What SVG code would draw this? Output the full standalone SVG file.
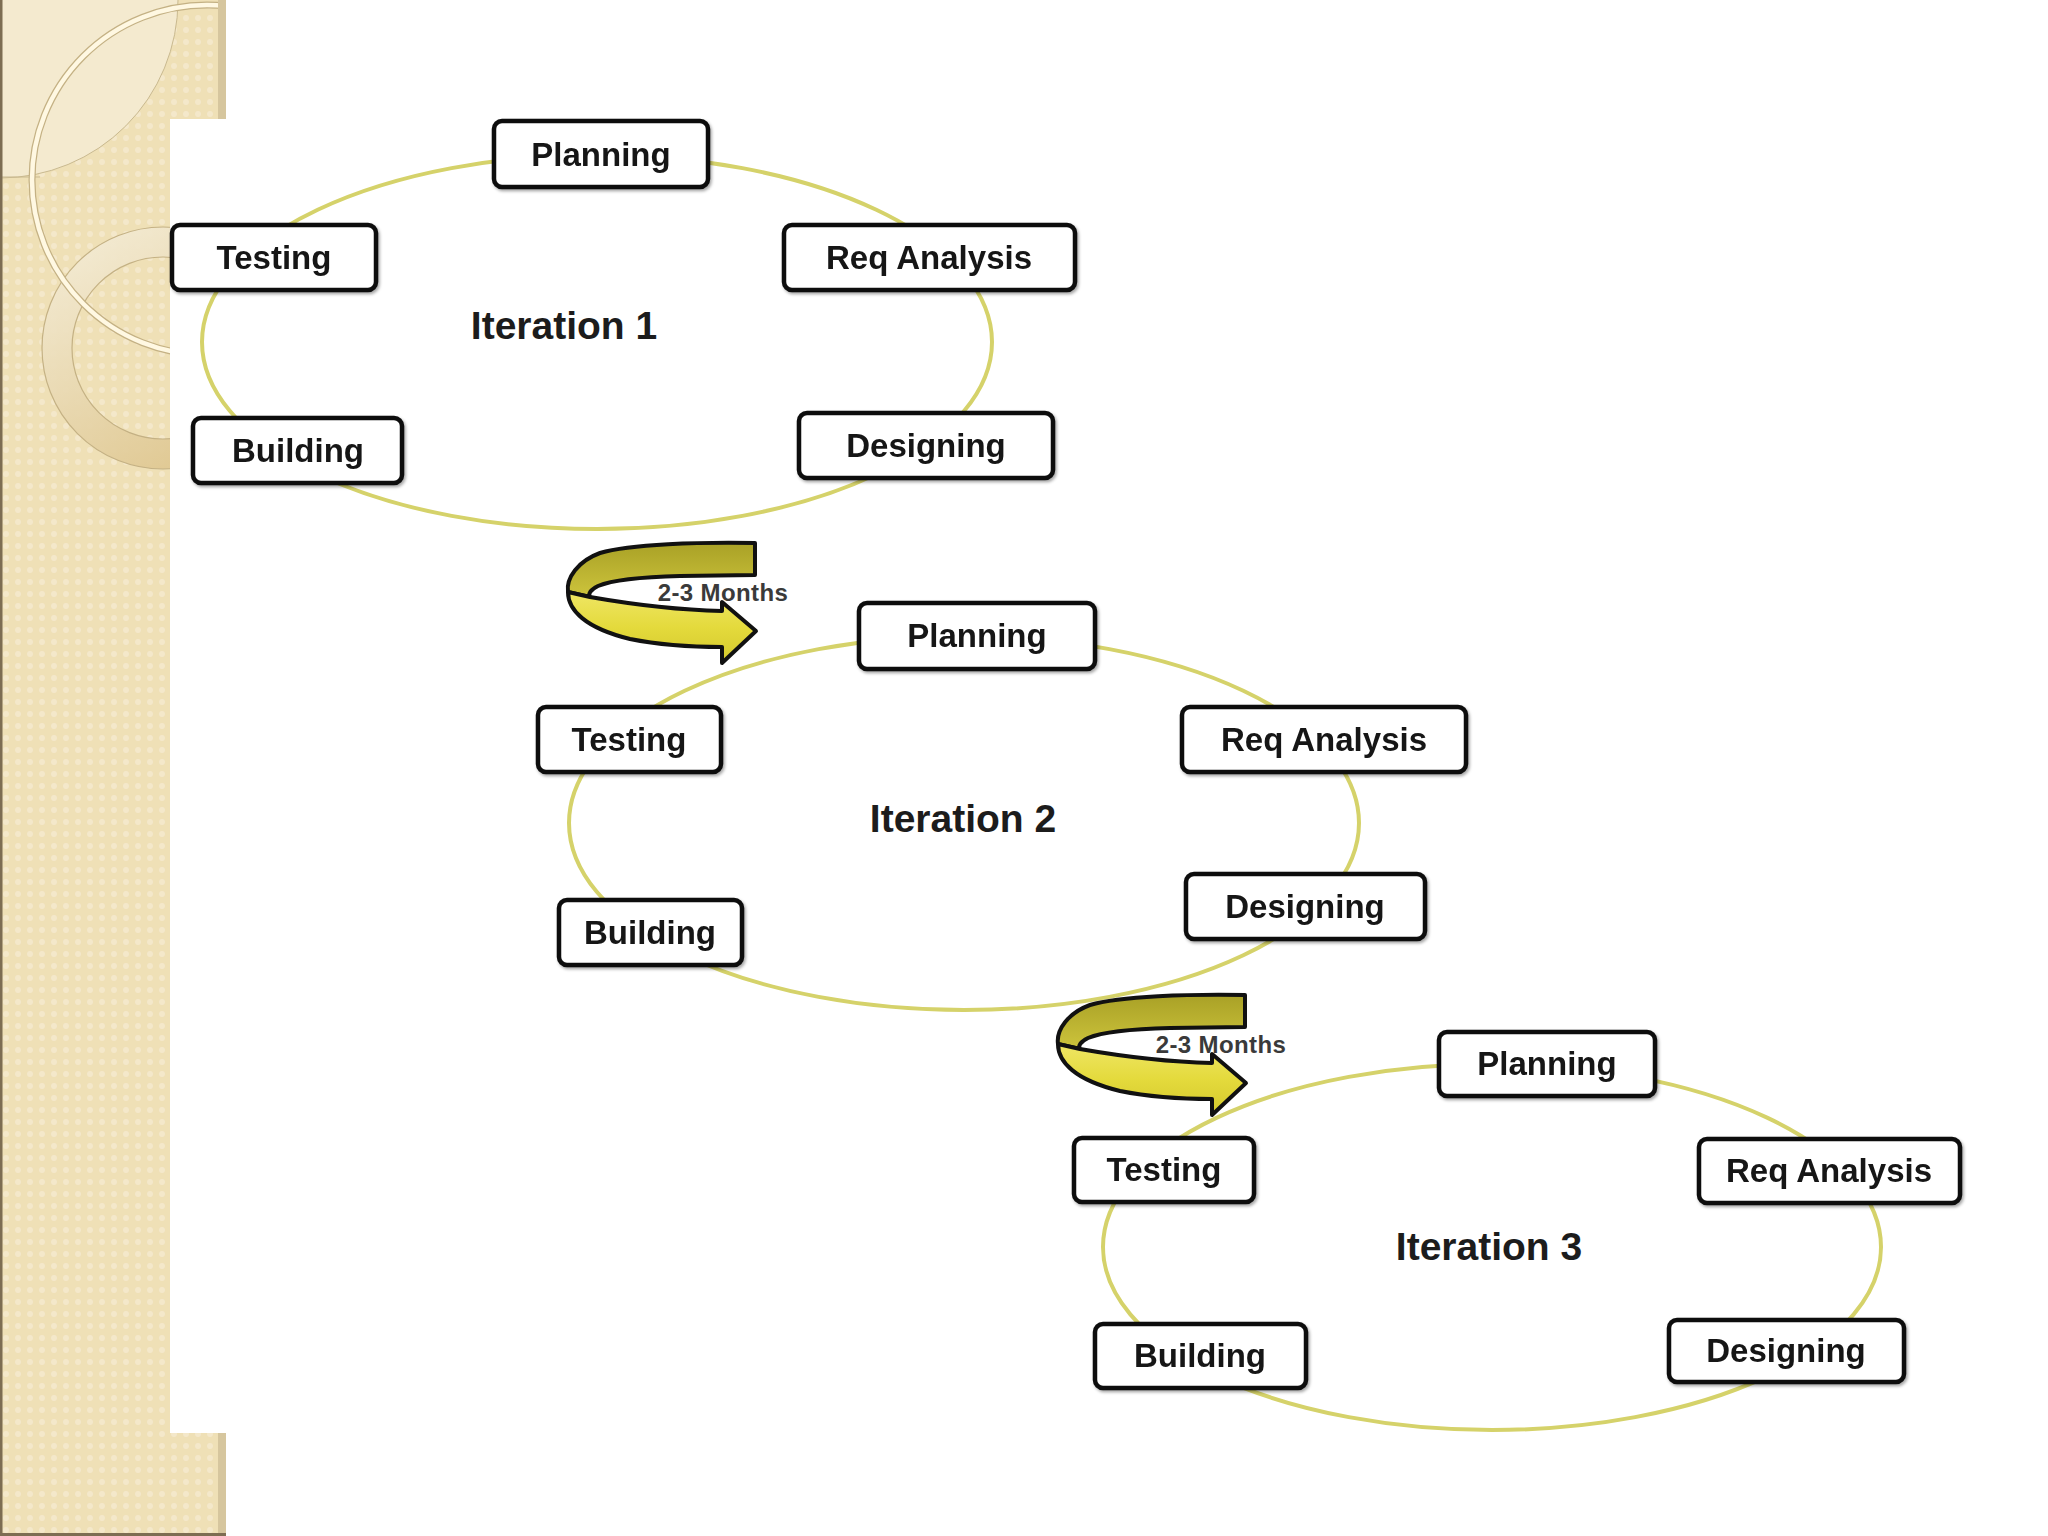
<svg xmlns="http://www.w3.org/2000/svg" width="2048" height="1536" viewBox="0 0 2048 1536">
<style>
.box{fill:#ffffff;stroke:#111111;stroke-width:4.5}
.lbl{font-family:"Liberation Sans",Arial,sans-serif;font-weight:bold;font-size:33px;fill:#151515;text-anchor:middle}
.iter{font-family:"Liberation Sans",Arial,sans-serif;font-weight:bold;font-size:39px;fill:#1c1c1c;text-anchor:middle}
.cyc{fill:none;stroke:#d5d26a;stroke-width:4}
.mon{font-family:"Liberation Sans",Arial,sans-serif;font-weight:bold;font-size:24px;fill:#3a3a3a;text-anchor:middle;letter-spacing:0.4px}
.arw{stroke:#111111;stroke-width:4;stroke-linejoin:round}
</style>
<defs>
<pattern id="dots" width="12" height="12" patternUnits="userSpaceOnUse">
<rect width="12" height="12" fill="#efe0b6"/>
<circle cx="6" cy="6" r="3" fill="#f5ead0" opacity="0.8"/>
</pattern>
<linearGradient id="ringG" x1="0" y1="0" x2="0.6" y2="1">
<stop offset="0" stop-color="#f4ecd6"/>
<stop offset="1" stop-color="#e0c994"/>
</linearGradient>
<linearGradient id="backG" x1="0" y1="0" x2="0" y2="1">
<stop offset="0" stop-color="#a9a126"/>
<stop offset="1" stop-color="#cdc43c"/>
</linearGradient>
<linearGradient id="frontG" x1="0" y1="0" x2="0" y2="1">
<stop offset="0" stop-color="#efe664"/>
<stop offset="0.5" stop-color="#e4da3c"/>
<stop offset="1" stop-color="#d4c92c"/>
</linearGradient>
<clipPath id="panelClip"><rect x="0" y="0" width="226" height="1536"/></clipPath>
<filter id="sh" x="-10%" y="-20%" width="120%" height="150%">
<feDropShadow dx="1.5" dy="2" stdDeviation="1.5" flood-color="#000" flood-opacity="0.35"/>
</filter>
<g id="curl">
<path class="arw" fill="url(#backG)" d="M 755,543 L 755,575 L 680,576 C 640,577 610,581 598,586 C 590,590 588,594 590,597 L 568,592 C 566,578 578,561 600,553 C 630,544 700,542 755,543 Z"/>
<path class="arw" fill="url(#frontG)" d="M 568,592 C 568,610 585,628 630,639 C 665,646 700,647 722,647 L 722,663 L 756,631 L 722,602 L 722,611 C 680,610 630,604 590,597 Z"/>
</g>
</defs>

<rect x="0" y="0" width="2048" height="1536" fill="#ffffff"/>

<g id="panel" clip-path="url(#panelClip)">
<rect x="0" y="0" width="226" height="1536" fill="url(#dots)"/>
<circle cx="0" cy="0" r="178" fill="#f4eacf" stroke="#c9b98f" stroke-width="1"/>
<path d="M 0,177 L 40,177" stroke="#c9b98f" stroke-width="1"/>
<circle cx="163" cy="348" r="106" fill="none" stroke="url(#ringG)" stroke-width="30" opacity="0.95"/>
<circle cx="163" cy="348" r="121" fill="none" stroke="#c4b184" stroke-width="1.2"/>
<circle cx="163" cy="348" r="91" fill="none" stroke="#c4b184" stroke-width="1.2"/>
<circle cx="207" cy="180" r="175" fill="none" stroke="#c4b184" stroke-width="7"/>
<circle cx="207" cy="180" r="175" fill="none" stroke="#fff8e2" stroke-width="4.5"/>
<rect x="218" y="0" width="8" height="1536" fill="#d6c69e"/>
<rect x="0" y="0" width="2.5" height="1536" fill="#7d6d52"/>
<rect x="0" y="1533" width="226" height="3" fill="#7d6d52"/>
</g>

<rect x="170" y="119" width="1878" height="1314" fill="#ffffff"/>

<g id="connectors">
<ellipse class="cyc" cx="597" cy="342" rx="395" ry="187"/>
<ellipse class="cyc" cx="964" cy="823" rx="395" ry="187"/>
<ellipse class="cyc" cx="1492" cy="1247" rx="389" ry="183"/>
<g id="arrow1">
<use href="#curl"/>
<text class="mon" x="723" y="601">2-3 Months</text>
</g>
<g id="arrow2">
<use href="#curl" transform="translate(490,452)"/>
<text class="mon" x="1221" y="1053">2-3 Months</text>
</g>
</g>

<g id="iteration1">
<text class="iter" x="564" y="339">Iteration 1</text>
<g id="i1-planning" filter="url(#sh)"><rect class="box" x="494" y="121" width="214" height="66" rx="8"/><text class="lbl" x="601" y="166">Planning</text></g>
<g id="i1-testing" filter="url(#sh)"><rect class="box" x="172" y="225" width="204" height="65" rx="8"/><text class="lbl" x="274" y="269">Testing</text></g>
<g id="i1-req" filter="url(#sh)"><rect class="box" x="784" y="225" width="291" height="65" rx="8"/><text class="lbl" x="929" y="269">Req Analysis</text></g>
<g id="i1-building" filter="url(#sh)"><rect class="box" x="193" y="418" width="209" height="65" rx="8"/><text class="lbl" x="298" y="462">Building</text></g>
<g id="i1-designing" filter="url(#sh)"><rect class="box" x="799" y="413" width="254" height="65" rx="8"/><text class="lbl" x="926" y="457">Designing</text></g>
</g>

<g id="iteration2">
<text class="iter" x="963" y="832">Iteration 2</text>
<g id="i2-planning" filter="url(#sh)"><rect class="box" x="859" y="603" width="236" height="66" rx="8"/><text class="lbl" x="977" y="647">Planning</text></g>
<g id="i2-testing" filter="url(#sh)"><rect class="box" x="538" y="707" width="183" height="65" rx="8"/><text class="lbl" x="629" y="751">Testing</text></g>
<g id="i2-req" filter="url(#sh)"><rect class="box" x="1182" y="707" width="284" height="65" rx="8"/><text class="lbl" x="1324" y="751">Req Analysis</text></g>
<g id="i2-building" filter="url(#sh)"><rect class="box" x="559" y="900" width="183" height="65" rx="8"/><text class="lbl" x="650" y="944">Building</text></g>
<g id="i2-designing" filter="url(#sh)"><rect class="box" x="1186" y="874" width="239" height="65" rx="8"/><text class="lbl" x="1305" y="918">Designing</text></g>
</g>

<g id="iteration3">
<text class="iter" x="1489" y="1260">Iteration 3</text>
<g id="i3-planning" filter="url(#sh)"><rect class="box" x="1439" y="1032" width="216" height="64" rx="8"/><text class="lbl" x="1547" y="1075">Planning</text></g>
<g id="i3-testing" filter="url(#sh)"><rect class="box" x="1074" y="1138" width="180" height="64" rx="8"/><text class="lbl" x="1164" y="1181">Testing</text></g>
<g id="i3-req" filter="url(#sh)"><rect class="box" x="1699" y="1139" width="261" height="64" rx="8"/><text class="lbl" x="1829" y="1182">Req Analysis</text></g>
<g id="i3-building" filter="url(#sh)"><rect class="box" x="1095" y="1324" width="211" height="64" rx="8"/><text class="lbl" x="1200" y="1367">Building</text></g>
<g id="i3-designing" filter="url(#sh)"><rect class="box" x="1669" y="1320" width="235" height="62" rx="8"/><text class="lbl" x="1786" y="1362">Designing</text></g>
</g>
</svg>
